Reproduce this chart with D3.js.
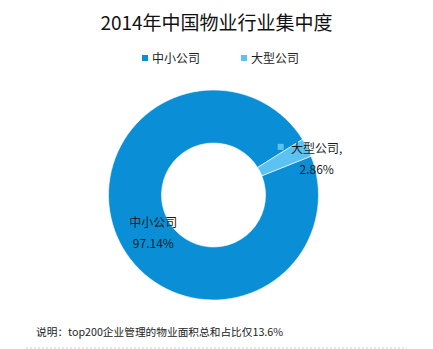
<!DOCTYPE html>
<html>
<head>
<meta charset="utf-8">
<script src="https://cdn.jsdelivr.net/npm/d3@7/dist/d3.min.js"></script>
<style>
  html, body { margin: 0; padding: 0; background: #fff; }
  svg { display: block; font-family: "Microsoft YaHei", "Noto Sans CJK SC", "Noto Sans", sans-serif; }
</style>
</head>
<body>
<svg id="chart" width="433" height="349"></svg>
<script>
// Share of managed property area, 2014
const categories = ["中小公司", "大型公司"];
const values = [97.14, 2.86];
const valueLabels = ["97.14%", "2.86%"];
const colors = ["#0a8fd6", "#5bc2f1"];
const title = "2014年中国物业行业集中度";
const note = "说明：top200企业管理的物业面积总和占比仅13.6%";

const W = 433, H = 349;
const svg = d3.select("#chart");
const cx = 213.5, cy = 195, rOuter = 105, rInner = 52;
const startDeg = 68.3;

// Title
svg.append("text")
  .attr("x", W / 2).attr("y", 30)
  .attr("text-anchor", "middle")
  .attr("font-size", 19)
  .attr("fill", "#111")
  .text(title);

// Legend
const legendX = [142, 241];
const legend = svg.append("g");
categories.forEach((c, i) => {
  legend.append("rect")
    .attr("x", legendX[i]).attr("y", 55)
    .attr("width", 6).attr("height", 6)
    .attr("fill", colors[i]);
  legend.append("text")
    .attr("x", legendX[i] + 10).attr("y", 62.5)
    .attr("font-size", 12)
    .attr("fill", "#222")
    .text(c);
});

// Donut
const pie = d3.pie().sort(null)
  .startAngle(startDeg * Math.PI / 180)
  .endAngle((startDeg + 360) * Math.PI / 180);
const arcs = pie(values);
const arc = d3.arc().innerRadius(rInner).outerRadius(rOuter);

const g = svg.append("g").attr("transform", `translate(${cx},${cy})`);
g.selectAll("path")
  .data(arcs)
  .join("path")
  .attr("d", arc)
  .attr("fill", (d, i) => colors[i])
  .attr("stroke", "#fff")
  .attr("stroke-width", 0.6);

// Data labels
const labelArc = d3.arc().innerRadius(82).outerRadius(82);
arcs.forEach((d, i) => {
  let p;
  if (i === 0) {
    p = labelArc.centroid(d);
    p = [p[0] + 13, p[1] + 1];
  } else {
    const mid = (d.startAngle + d.endAngle) / 2 + 0.09;
    p = [Math.sin(mid) * 110 + 1, -Math.cos(mid) * 110 + 5];
  }
  const lbl = g.append("g").attr("transform", `translate(${p[0]},${p[1]})`);
  if (i === 1) {
    lbl.append("rect")
      .attr("x", -39).attr("y", -15.5)
      .attr("width", 6).attr("height", 6)
      .attr("fill", colors[1]);
  }
  lbl.append("text")
    .attr("text-anchor", "middle")
    .attr("y", -6)
    .attr("font-size", 12)
    .attr("fill", "#1a1a1a")
    .text(categories[i] + (i === 1 ? "," : ""));
  lbl.append("text")
    .attr("text-anchor", "middle")
    .attr("x", i === 1 ? 0 : 0)
    .attr("y", 15)
    .attr("font-size", 12)
    .attr("fill", "#1a1a1a")
    .text(valueLabels[i]);
});

// Footnote
svg.append("text")
  .attr("x", 36).attr("y", 336)
  .attr("font-size", 10.7)
  .attr("fill", "#222")
  .text(note);

svg.append("line")
  .attr("x1", 26).attr("x2", 407)
  .attr("y1", 348).attr("y2", 348)
  .attr("stroke", "#ccc")
  .attr("stroke-width", 1)
  .attr("stroke-dasharray", "2,2");
</script>
</body>
</html>
